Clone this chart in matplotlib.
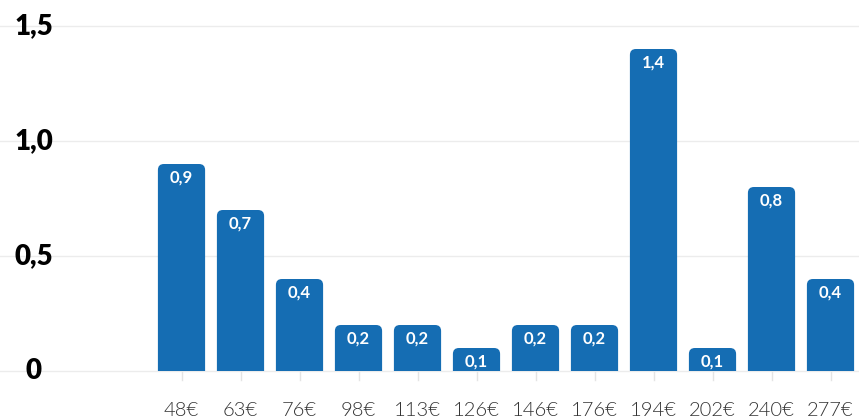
import matplotlib
matplotlib.use("Agg")
import matplotlib.pyplot as plt
from matplotlib.patches import FancyBboxPatch

categories = ["48€", "63€", "76€", "98€", "113€", "126€", "146€", "176€", "194€", "202€", "240€", "277€"]
values = [0.9, 0.7, 0.4, 0.2, 0.2, 0.1, 0.2, 0.2, 1.4, 0.1, 0.8, 0.4]
yticks = [0, 0.5, 1.0, 1.5]
ytick_labels = ["0", "0,5", "1,0", "1,5"]

W, H = 859, 420
fig = plt.figure(figsize=(W / 100, H / 100), dpi=100)
y0_px, ytop_px = 371, 26
ax = fig.add_axes([0, (H - y0_px) / H, 1, (y0_px - ytop_px) / H])
slot = 59.0
c0 = 181.5
ax.set_xlim(-c0 / slot, (W - c0) / slot)
ax.set_ylim(0, 1.5)
for s in ax.spines.values():
    s.set_visible(False)
ax.set_xticks([])
ax.set_yticks([])

grid_color = "#ececec"
for t in yticks:
    ax.axhline(t, color=grid_color, lw=1, zorder=0, clip_on=False)

bar_w = 0.8
rx = 6 / slot
ry_per_px = 1.5 / (y0_px - ytop_px)
ry = 6 * ry_per_px
color = "#156db3"
for i, v in enumerate(values):
    p = FancyBboxPatch((i - bar_w / 2, -ry * 2), bar_w, v + ry * 2,
                       boxstyle=f"round,pad=0,rounding_size={rx}",
                       mutation_aspect=ry / rx, fc=color, ec="none", zorder=2)
    ax.add_patch(p)
    ax.text(i, v - 14 * ry_per_px, f"{v:.1f}".replace(".", ","), ha="center", va="center",
            color="white", fontsize=12, fontweight="bold", family="Lato", zorder=3)
    ax.plot([i, i], [-1 * ry_per_px, -9 * ry_per_px], color="#e4e4e4", lw=1, clip_on=False, zorder=1)
    ax.text(i, -39 * ry_per_px, categories[i], ha="center", va="center", color="#333333",
            fontsize=14.5, fontweight=300, family="Lato")

label_x = (34 - c0) / slot
for t, lab in zip(yticks, ytick_labels):
    ax.text(label_x, t, lab, ha="center", va="center", color="black",
            fontsize=20, fontweight="heavy", family="Lato", clip_on=False)

fig.savefig("out.png", dpi=100)
